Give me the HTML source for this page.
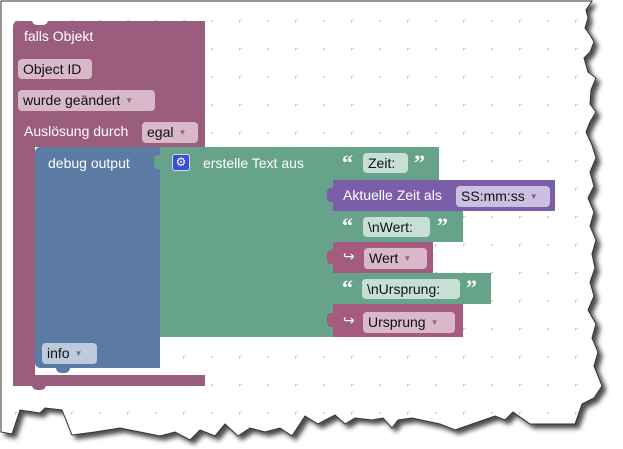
<!DOCTYPE html>
<html><head><meta charset="utf-8"><style>
body{margin:0;width:623px;height:449px;overflow:hidden;background:#fff;font-family:"Liberation Sans",sans-serif;}
.a{position:absolute;}
.t{position:absolute;color:#fff;font-size:14px;white-space:nowrap;}
.q{position:absolute;color:#fff;font-size:22px;font-weight:bold;font-family:"Liberation Serif",serif;white-space:nowrap;}
.p{position:absolute;border-radius:4px;font-size:14px;color:#111;white-space:nowrap;box-sizing:border-box;padding:1px 5px;line-height:18px;}
.dd{font-size:8px;vertical-align:2px;margin-left:5px;}
</style></head><body>
<svg class="a" style="left:0;top:0" width="623" height="449">
<defs>
<pattern id="g" x="15" y="20" width="28" height="28" patternUnits="userSpaceOnUse">
<path d="M0 -2V2M-2 0H2" stroke="#ccc" stroke-width="1" transform="translate(0.5,0.5)"/>
</pattern>
<clipPath id="c"><path id="pp" d="M1 1 H592 L586 10 L588 18 L585 28 L590 35 L594 42 L590 52 L584 58 L588 72 L596 78 L591 90 L590 104 L596 112 L590 122 L586 132 L592 145 L596 158 L590 172 L594 186 L588 198 L594 212 L590 226 L596 240 L592 254 L595 268 L590 282 L594 296 L588 310 L596 324 L592 338 L598 352 L594 366 L602 386 L594 398 L582 404 L575 424 L530 424 L513 412 L505 420 L495 416 L455 430 L440 424 L412 418 L398 420 L392 428 L383 418 L372 420 L355 418 L345 424 L335 415 L318 424 L305 416 L292 436 L280 428 L265 432 L250 428 L238 436 L225 424 L215 436 L200 430 L190 440 L175 432 L160 436 L120 428 L95 432 L72 435 L62 410 L45 408 L40 413 L20 410 L12 434 L1 432 Z"/></clipPath>
<filter id="s" x="-5%" y="-5%" width="115%" height="115%"><feDropShadow dx="4" dy="4" stdDeviation="2.5" flood-color="#000" flood-opacity="0.7"/></filter>
</defs>
<use href="#pp" filter="url(#s)" fill="#fff" stroke="#333" stroke-width="1"/>
<rect x="2" y="2" width="600" height="440" fill="url(#g)" clip-path="url(#c)"/>
</svg>
<!-- outer purple block -->
<div class="a" style="left:13px;top:21px;width:192px;height:126px;background:#9a5d7e;border-radius:5px 0 0 0"></div>
<div class="a" style="left:13px;top:140px;width:22px;height:246px;background:#9a5d7e;border-radius:0 0 0 6px"></div>
<div class="a" style="left:13px;top:375px;width:192px;height:11px;background:#9a5d7e"></div>
<div class="a" style="left:32px;top:20px;width:16px;height:5px;background:#fff;border-radius:0 0 6px 6px"></div>
<div class="a" style="left:32px;top:385px;width:14px;height:5px;background:#9a5d7e;border-radius:0 0 6px 6px"></div>
<div class="t" style="left:24px;top:28px">falls Objekt</div>
<div class="p" style="left:18px;top:59px;width:74px;background:#d8b8c9">Object ID</div>
<div class="p" style="left:18px;top:90px;width:137px;background:#d8b8c9">wurde geändert<span class="dd" style="color:#9a5d7e">▼</span></div>
<div class="t" style="left:24px;top:123px">Auslösung durch</div>
<div class="p" style="left:142px;top:122px;width:56px;background:#d8b8c9">egal<span class="dd" style="color:#9a5d7e">▼</span></div>
<!-- blue debug -->
<div class="a" style="left:35px;top:147px;width:125px;height:221px;background:#5b7ba5;border-radius:5px 0 0 5px"></div>
<div class="a" style="left:56px;top:368px;width:14px;height:5px;background:#5b7ba5;border-radius:0 0 6px 6px"></div>
<div class="t" style="left:48px;top:155px">debug output</div>
<div class="p" style="left:42px;top:343px;width:55px;background:#bccadb">info<span class="dd" style="color:#5b7ba5">▼</span></div>
<!-- green text join -->
<div class="a" style="left:160px;top:147px;width:173px;height:190px;background:#66a38a"></div>
<div class="a" style="left:154px;top:155px;width:7px;height:14px;background:#66a38a;border-radius:4px 0 0 4px"></div>
<div class="a" style="left:172px;top:154px;width:18px;height:17px;background:#3b4fd0;border-radius:3px;border:1px solid #cde;box-sizing:border-box;color:#fff;font-size:12px;text-align:center;line-height:15px">⚙</div>
<div class="t" style="left:203px;top:155px">erstelle Text aus</div>
<!-- inputs -->
<div class="a" style="left:333px;top:147px;width:106px;height:33px;background:#66a38a"></div>
<div class="q" style="left:342px;top:150px">“</div>
<div class="p" style="left:363px;top:153px;width:45px;background:#c7e0d6">Zeit:</div>
<div class="q" style="left:414px;top:150px">”</div>
<div class="a" style="left:333px;top:180px;width:222px;height:31px;background:#7b5ea8"></div>
<div class="t" style="left:343px;top:187px">Aktuelle Zeit als</div>
<div class="p" style="left:456px;top:186px;width:94px;background:#cdbfe0">SS:mm:ss<span class="dd" style="color:#7b5ea8">▼</span></div>
<div class="a" style="left:333px;top:211px;width:130px;height:31px;background:#66a38a"></div>
<div class="q" style="left:342px;top:213px">“</div>
<div class="p" style="left:363px;top:217px;width:67px;background:#c7e0d6">\nWert:</div>
<div class="q" style="left:437px;top:213px">”</div>
<div class="a" style="left:333px;top:242px;width:100px;height:31px;background:#a55b80"></div>
<div class="t" style="left:343px;top:248px">↪</div>
<div class="p" style="left:364px;top:248px;width:63px;background:#d8b8c9">Wert<span class="dd" style="color:#a55b80">▼</span></div>
<div class="a" style="left:333px;top:273px;width:158px;height:31px;background:#66a38a"></div>
<div class="q" style="left:342px;top:275px">“</div>
<div class="p" style="left:362px;top:279px;width:98px;background:#c7e0d6">\nUrsprung:</div>
<div class="q" style="left:466px;top:275px">”</div>
<div class="a" style="left:333px;top:304px;width:130px;height:33px;background:#a55b80"></div>
<div class="t" style="left:343px;top:312px">↪</div>
<div class="p" style="left:363px;top:312px;width:92px;background:#d8b8c9">Ursprung<span class="dd" style="color:#a55b80">▼</span></div>
<!-- input tabs -->
<div class="a" style="left:327px;top:188px;width:7px;height:14px;background:#7b5ea8;border-radius:4px 0 0 4px"></div>
<div class="a" style="left:327px;top:250px;width:7px;height:14px;background:#a55b80;border-radius:4px 0 0 4px"></div>
<div class="a" style="left:327px;top:313px;width:7px;height:14px;background:#a55b80;border-radius:4px 0 0 4px"></div>
</body></html>
